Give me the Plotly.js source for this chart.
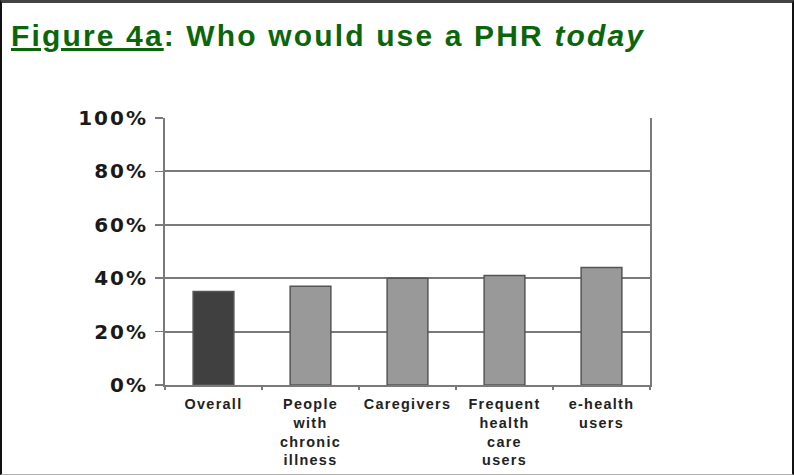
<!DOCTYPE html>
<html>
<head>
<meta charset="utf-8">
<script src="https://cdn.plot.ly/plotly-3.0.1.min.js"></script>
<style>
  html, body { margin: 0; padding: 0; background: #fff; }
  #wrap { position: relative; width: 794px; height: 475px; }
  #chart { width: 794px; height: 475px; }
  #frame {
    position: absolute; left: 0; top: 0; width: 794px; height: 475px;
    box-sizing: border-box; pointer-events: none;
    border-left: 2px solid #111; border-right: 2px solid #111;
    border-top: 3px solid #444; border-bottom: 1px solid #b0b0b0;
  }
  .gtitle { letter-spacing: 2.15px; }
  .ytick text { letter-spacing: 2px; }
  .xtick text { letter-spacing: 1.3px; }
</style>
</head>
<body>
<div id="wrap">
  <div id="chart"></div>
  <div id="frame"></div>
</div>
<script>
// Data
var categories = ["Overall", "People<br>with<br>chronic<br>illness", "Caregivers", "Frequent<br>health<br>care<br>users", "e-health<br>users"];
var shareWhoWouldUse = [0.35, 0.37, 0.40, 0.41, 0.44];
var barColors = ["#404040", "#999999", "#999999", "#999999", "#999999"];
var yTickValues = [0, 0.2, 0.4, 0.6, 0.8, 1.0];
var yTickLabels = ["0%", "20%", "40%", "60%", "80%", "100%"];
var titleText = '<span style="text-decoration:underline">Figure 4a</span>: Who would use a PHR <i>today</i>';

var trace = {
  type: "bar",
  x: categories,
  y: shareWhoWouldUse,
  width: 0.42,
  marker: { color: barColors, line: { color: "#555555", width: 1.5 } },
  hoverinfo: "skip"
};

var layout = {
  width: 794, height: 475,
  paper_bgcolor: "#ffffff", plot_bgcolor: "#ffffff",
  margin: { l: 165, r: 144, t: 118, b: 90, pad: 0 },
  showlegend: false,
  title: {
    text: titleText,
    font: { family: "'Liberation Sans', Arial, sans-serif", size: 30, color: "#0b660b", weight: "bold" },
    xref: "container", yref: "container",
    x: 11 / 794, xanchor: "left",
    y: 1 - 25 / 475, yanchor: "top"
  },
  xaxis: {
    type: "category",
    range: [-0.5, 4.5],
    showgrid: false,
    showline: true, linecolor: "#7a7a7a", linewidth: 2,
    mirror: false,
    ticks: "outside", ticklen: 3, tickcolor: "#7a7a7a", tickwidth: 1.5,
    tickson: "boundaries",
    tickfont: { family: "'Liberation Sans', Arial, sans-serif", size: 14.4, color: "#222222", weight: "bold" },
    ticklabelstandoff: 5,
    fixedrange: true
  },
  yaxis: {
    range: [0, 1],
    tickvals: yTickValues,
    ticktext: yTickLabels,
    showgrid: true, gridcolor: "#7a7a7a", gridwidth: 2,
    showline: true, linecolor: "#7a7a7a", linewidth: 2,
    mirror: true,
    zeroline: false,
    ticks: "outside", ticklen: 8, tickcolor: "#7a7a7a", tickwidth: 1.5,
    tickfont: { family: "'DejaVu Sans', sans-serif", size: 20, color: "#1a1a1a", weight: "bold" },
    ticklabelstandoff: 3,
    fixedrange: true
  }
};

Plotly.newPlot("chart", [trace], layout, { staticPlot: true, displayModeBar: false });
</script>
</body>
</html>
